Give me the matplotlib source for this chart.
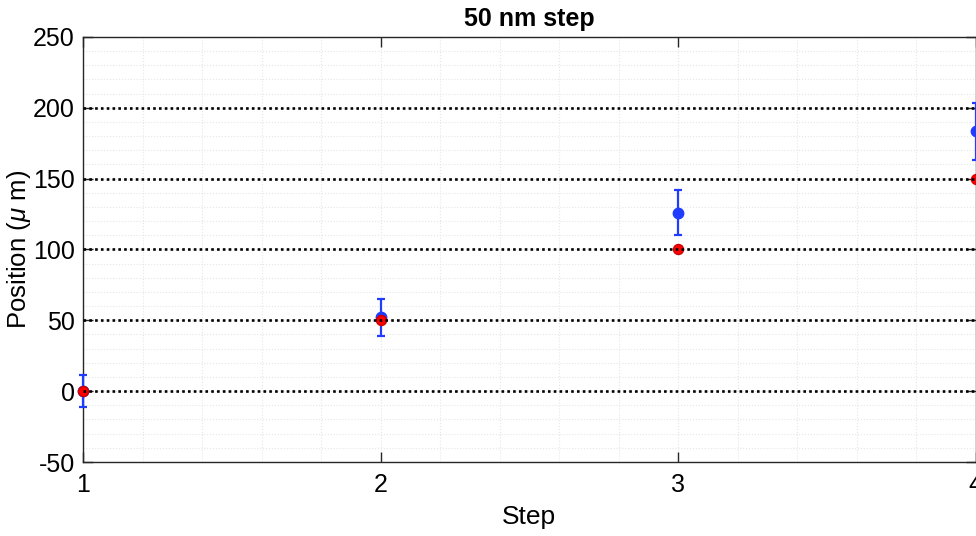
import matplotlib
matplotlib.use("Agg")
import matplotlib.pyplot as plt
import numpy as np
from matplotlib.ticker import MultipleLocator

plt.rcParams['font.family'] = ['Liberation Sans', 'DejaVu Sans']
plt.rcParams['mathtext.fontset'] = 'custom'
plt.rcParams['mathtext.it'] = 'Liberation Sans:italic'
plt.rcParams['mathtext.rm'] = 'Liberation Sans'
plt.rcParams['axes.unicode_minus'] = False

# measured positions (blue, with std) and nominal targets (red)
steps = [1, 2, 3, 4]
measured = [0.0, 52.0, 126.0, 183.4]
measured_err = [11.4, 13.3, 15.7, 20.2]
target = [0, 50, 100, 150]
ref_lines = [0, 50, 100, 150, 200]

fig = plt.figure(figsize=(9.76, 5.36), dpi=100)
ax = fig.add_axes([83 / 976, 1 - 462 / 536, (975.5 - 83) / 976, (462 - 37) / 536])

# faint minor grid
ax.xaxis.set_minor_locator(MultipleLocator(0.2))
ax.yaxis.set_minor_locator(MultipleLocator(10))
ax.grid(which='both', color='#e6e6e6', linestyle=':', linewidth=0.8, zorder=0)

ax.errorbar(steps, measured, yerr=measured_err, fmt='o', color='#1f3cff',
            markersize=7.5, elinewidth=1.6, capsize=3, capthick=1.6, zorder=3,
            clip_on=False)
ax.plot(steps, target, 'o', color='#ff0000', markeredgecolor='#d00000',
        markersize=7.2, zorder=4, clip_on=False)

for v in ref_lines:
    ax.axhline(v, color='black', linestyle=(0, (1, 1.2)), linewidth=1.9, zorder=5)

ax.set_xlim(1, 4)
ax.set_ylim(-50, 250)
ax.set_xticks(steps)
ax.set_yticks(np.arange(-50, 251, 50))
ax.tick_params(which='major', direction='in', length=7, width=1, top=True, right=True,
               labelsize=18, colors='#262626', labelcolor='black')
ax.tick_params(axis='x', pad=8)
ax.tick_params(axis='y', pad=6)
ax.tick_params(which='minor', length=0)
for s in ax.spines.values():
    s.set_color('#262626')
    s.set_linewidth(1)

ax.set_title('50 nm step', fontsize=18, fontweight='bold', pad=8)
ax.set_xlabel('Step', fontsize=19, labelpad=6)
ax.set_ylabel(r'Position ($\mu$ m)', fontsize=18.5, labelpad=0)

fig.savefig('out.png', dpi=100)
